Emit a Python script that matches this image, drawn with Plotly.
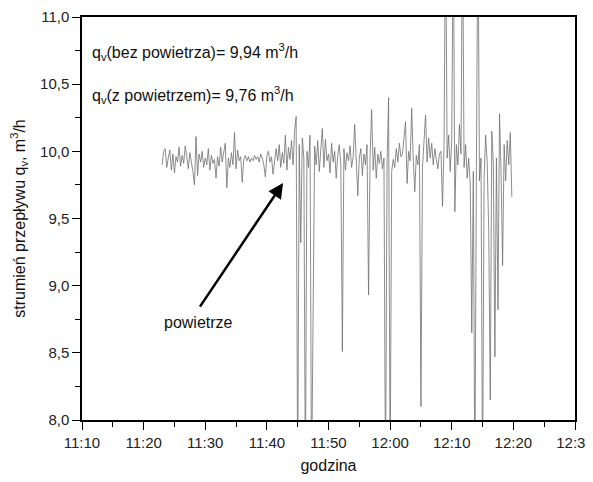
import pandas as pd
import plotly.graph_objects as go

flow_values = [
    # 11:23 - 11:43:45 (no air)
    9.90, 10.00, 10.02, 9.88, 9.95, 10.01, 9.86, 9.98, 9.84, 9.96, 9.92, 10.03,
    9.89, 9.97, 9.91, 10.04, 9.96, 9.87, 9.99, 9.93, 9.85, 9.75, 10.11, 9.82,
    9.98, 9.92, 10.00, 9.88, 9.95, 9.90, 10.02, 9.86, 9.97, 9.91, 9.94, 9.80,
    9.96, 9.89, 10.03, 9.92, 9.98, 10.06, 9.73, 9.95, 9.88, 9.99, 9.90, 10.14,
    9.87, 10.01, 9.93, 9.96, 9.77, 9.94, 9.97, 9.93, 9.96, 9.92, 9.95, 9.93,
    9.97, 9.94, 9.96, 9.92, 9.98, 9.95, 9.90, 9.81, 9.97, 10.00, 9.92, 9.96,
    9.83, 9.95, 10.02, 9.93, 10.05, 9.88, 9.99, 9.91, 10.12, 9.86, 10.03, 9.94,
    # 11:44 onwards (with air)
    10.08, 9.90, 10.15, 10.26, 7.50, 10.05, 9.32, 10.10, 9.95, 7.50, 10.00, 9.88,
    10.12, 7.50, 8.65, 10.04, 9.90, 10.08, 9.85, 10.02, 10.17, 9.88, 10.09, 9.93,
    9.98, 9.84, 10.06, 9.92, 10.00, 9.80, 9.97, 10.05, 9.90, 8.51, 10.02, 9.86,
    9.99, 9.93, 10.04, 9.88, 9.96, 10.20, 9.85, 9.67, 9.95, 10.02, 9.82, 9.98,
    9.90, 10.05, 8.93, 9.97, 10.31, 9.86, 10.03, 9.80, 9.98, 9.91, 10.00, 9.87,
    9.95, 7.50, 9.90, 10.40, 7.50, 9.85, 9.94, 9.88, 10.02, 9.92, 10.06, 9.96,
    9.98, 10.08, 10.22, 9.76, 10.00, 9.93, 10.32, 9.95, 9.70, 9.97, 9.90, 10.05,
    8.10, 9.88, 10.04, 10.27, 9.92, 10.10, 9.95, 10.06, 9.90, 10.02, 9.94, 9.87,
    9.98, 10.00, 9.59, 10.05, 11.80, 9.95, 10.12, 9.85, 10.08, 11.80, 9.55, 10.05,
    9.90, 10.20, 9.98, 11.80, 9.88, 10.05, 9.80, 9.95, 9.75, 8.65, 9.85, 7.50,
    9.88, 11.80, 9.78, 9.95, 7.50, 9.80, 10.12, 9.92, 9.41, 8.15, 10.15, 9.90,
    8.47, 9.95, 8.82, 10.28, 9.85, 9.15, 10.05, 9.78, 10.08, 9.90, 10.14, 9.66,
]
start_time = "2024-01-01 11:23:00"
sample_step = "15s"
times = pd.date_range(start_time, periods=len(flow_values), freq=sample_step)

x_range = ["2024-01-01 11:10:00", "2024-01-01 12:30:00"]
y_range = [8.0, 11.0]

label_no_air = "q<sub>v</sub>(bez powietrza)= 9,94 m<sup>3</sup>/h"
label_air = "q<sub>v</sub>(z powietrzem)= 9,76 m<sup>3</sup>/h"
arrow_label = "powietrze"
arrow_tail = ("2024-01-01 11:28:59", 8.833)
arrow_head = ("2024-01-01 11:42:38", 9.764)

FONT = "Arial, Liberation Sans, sans-serif"

fig = go.Figure()
fig.add_trace(go.Scatter(
    x=times, y=flow_values, mode="lines",
    line=dict(color="#707070", width=0.8),
    showlegend=False, hoverinfo="skip",
))

fig.add_annotation(x=0.016, y=0.913, xref="paper", yref="paper",
                   text=label_no_air, showarrow=False, xanchor="left", yanchor="middle",
                   font=dict(size=16, color="#111", family=FONT))
fig.add_annotation(x=0.016, y=0.806, xref="paper", yref="paper",
                   text=label_air, showarrow=False, xanchor="left", yanchor="middle",
                   font=dict(size=16, color="#111", family=FONT))
fig.add_annotation(x=arrow_head[0], y=arrow_head[1], ax=arrow_tail[0], ay=arrow_tail[1],
                   xref="x", yref="y", axref="x", ayref="y", text="",
                   showarrow=True, arrowhead=2, arrowsize=1.2, arrowwidth=2.5,
                   arrowcolor="#000")
fig.add_annotation(x=arrow_tail[0], y=arrow_tail[1], xref="x", yref="y",
                   text=arrow_label, showarrow=False, xanchor="center", yanchor="top",
                   yshift=-4, font=dict(size=16, color="#111", family=FONT))

# page body has an 8 px margin, so the figure is sized/offset to fit the window
fig.update_layout(
    width=600, height=466,
    margin=dict(l=74, r=33, t=9, b=54, autoexpand=False),
    paper_bgcolor="white", plot_bgcolor="white",
    separators=",.",
    font=dict(family=FONT, size=15, color="#111"),
    showlegend=False,
)
fig.update_xaxes(
    type="date", range=x_range, dtick=600000, tickformat="%H:%M",
    automargin=False, ticklabeloverflow="allow",
    showgrid=False, zeroline=False,
    showline=True, linecolor="#000", linewidth=1.5, mirror=True,
    ticks="outside", ticklen=8, tickwidth=1.3, tickcolor="#000",
    minor=dict(dtick=300000, ticks="outside", ticklen=5, tickwidth=1.3, tickcolor="#000", showgrid=False),
    tickfont=dict(size=15, color="#222"),
    title=dict(text="godzina", font=dict(size=16, color="#111"), standoff=10),
)
fig.update_yaxes(
    range=y_range, dtick=0.5, tickformat=".1f",
    automargin=False, ticklabeloverflow="allow",
    showgrid=False, zeroline=False,
    showline=True, linecolor="#000", linewidth=1.5, mirror=True,
    ticks="outside", ticklen=8, tickwidth=1.3, tickcolor="#000",
    minor=dict(dtick=0.25, ticks="outside", ticklen=5, tickwidth=1.3, tickcolor="#000", showgrid=False),
    tickfont=dict(size=15, color="#222"),
    title=dict(text="strumień przepływu q<sub>v</sub>, m<sup>3</sup>/h",
               font=dict(size=16, color="#111")),
)

fig.write_html("out.html")
